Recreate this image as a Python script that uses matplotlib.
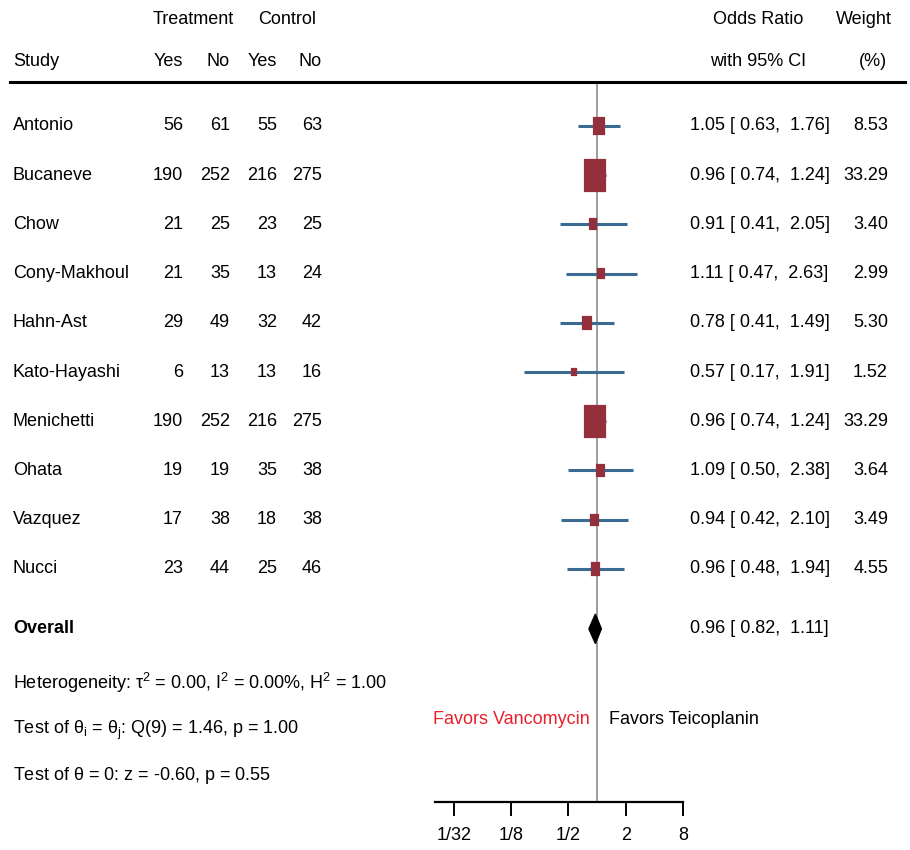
import matplotlib
matplotlib.use("Agg")
import matplotlib.pyplot as plt
from matplotlib.lines import Line2D
from matplotlib.ticker import FixedLocator, FixedFormatter, NullLocator
import matplotlib.transforms as mtrans
import numpy as np

plt.rcParams['font.family'] = ['Liberation Sans', 'DejaVu Sans']
plt.rcParams['mathtext.fontset'] = 'custom'
plt.rcParams['mathtext.rm'] = 'Liberation Sans'
plt.rcParams['mathtext.it'] = 'Liberation Sans'

# ---- study data ----
studies = ["Antonio", "Bucaneve", "Chow", "Cony-Makhoul", "Hahn-Ast",
           "Kato-Hayashi", "Menichetti", "Ohata", "Vazquez", "Nucci"]
trt_yes = [56, 190, 21, 21, 29, 6, 190, 19, 17, 23]
trt_no = [61, 252, 25, 35, 49, 13, 252, 19, 38, 44]
ctl_yes = [55, 216, 23, 13, 32, 13, 216, 35, 18, 25]
ctl_no = [63, 275, 25, 24, 42, 16, 275, 38, 38, 46]
odds = [1.05, 0.96, 0.91, 1.11, 0.78, 0.57, 0.96, 1.09, 0.94, 0.96]
ci_lo = [0.63, 0.74, 0.41, 0.47, 0.41, 0.17, 0.74, 0.50, 0.42, 0.48]
ci_hi = [1.76, 1.24, 2.05, 2.63, 1.49, 1.91, 1.24, 2.38, 2.10, 1.94]
weights = [8.53, 33.29, 3.40, 2.99, 5.30, 1.52, 33.29, 3.64, 3.49, 4.55]

overall_or = 0.96
overall_lo = 0.82
overall_hi = 1.11

tick_values = [1/32, 1/8, 1/2, 2, 8]
tick_labels = ["1/32", "1/8", "1/2", "2", "8"]

W, H = 910, 850
fig = plt.figure(figsize=(W / 100, H / 100), dpi=100)

# forest panel
ax_left, ax_right, ax_top, ax_bot = 435, 683, 82, 802
ax = fig.add_axes([ax_left / W, 1 - ax_bot / H, (ax_right - ax_left) / W, (ax_bot - ax_top) / H])
ax.set_xscale('log', base=2)
ax.set_xlim(2 ** -5.66, 2 ** 3)
row0, step = 126, 49.2
ax.set_ylim((ax_bot - row0) / step, (ax_top - row0) / step)

fs = 13

for s in ['top', 'right', 'left']:
    ax.spines[s].set_visible(False)
ax.spines['bottom'].set_linewidth(1.6)
ax.yaxis.set_major_locator(NullLocator())
ax.xaxis.set_major_locator(FixedLocator(tick_values))
ax.xaxis.set_major_formatter(FixedFormatter(tick_labels))
ax.xaxis.set_minor_locator(NullLocator())
ax.tick_params(axis='x', length=10, width=1.4, pad=8, labelsize=fs)

ax.axvline(1, color='#8c8c8c', lw=1.2, zorder=1)

box_color = '#93303c'
ci_color = '#3b6a93'
ys = np.arange(len(studies))
for y, o, lo, hi, w in zip(ys, odds, ci_lo, ci_hi, weights):
    ax.hlines(y, lo, hi, color=ci_color, lw=2.2, zorder=2)
    half_w = 0.12 * np.sqrt(w) / 2
    h = 0.11 * np.sqrt(w)
    left = o * 2 ** -half_w
    right = o * 2 ** half_w
    ax.barh(y, right - left, left=left, height=h, color=box_color,
            edgecolor=box_color, linewidth=1.6, zorder=3)

# overall diamond
y_all = 10.22
d_h = 0.3
ax.fill([overall_lo, overall_or, overall_hi, overall_or],
        [y_all, y_all - d_h, y_all, y_all + d_h], color='black', zorder=3)

# ---- text columns ----
tr = mtrans.blended_transform_factory(fig.transFigure, ax.transData)

def fx(px):
    return px / W

def fy(px):
    return 1 - px / H

for y, name, a, b, c, d, o, lo, hi, w in zip(ys, studies, trt_yes, trt_no, ctl_yes, ctl_no,
                                            odds, ci_lo, ci_hi, weights):
    ax.text(fx(13), y, name, transform=tr, ha='left', va='center', fontsize=fs)
    for xpos, v in zip([183, 230, 277, 322], [a, b, c, d]):
        ax.text(fx(xpos), y, str(v), transform=tr, ha='right', va='center', fontsize=fs)
    ax.text(fx(690), y, f"{o:.2f} [ {lo:.2f},  {hi:.2f}]", transform=tr,
            ha='left', va='center', fontsize=fs)
    ax.text(fx(888), y, f"{w:.2f}", transform=tr, ha='right', va='center', fontsize=fs)

ax.text(fx(13), y_all, "Overall", transform=tr, ha='left', va='center',
        fontsize=fs, fontweight='bold')
ax.text(fx(690), y_all, f"{overall_or:.2f} [ {overall_lo:.2f},  {overall_hi:.2f}]",
        transform=tr, ha='left', va='center', fontsize=fs)

# headers
fig.text(fx(193), fy(20), "Treatment", ha='center', va='center', fontsize=fs)
fig.text(fx(287), fy(20), "Control", ha='center', va='center', fontsize=fs)
fig.text(fx(13), fy(62), "Study", ha='left', va='center', fontsize=fs)
for xpos, lab in zip([183, 230, 277, 322], ["Yes", "No", "Yes", "No"]):
    fig.text(fx(xpos), fy(62), lab, ha='right', va='center', fontsize=fs)
fig.text(fx(758), fy(20), "Odds Ratio", ha='center', va='center', fontsize=fs)
fig.text(fx(758), fy(62), "with 95% CI", ha='center', va='center', fontsize=fs)
fig.text(fx(864), fy(20), "Weight", ha='center', va='center', fontsize=fs)
fig.text(fx(873), fy(62), "(%)", ha='center', va='center', fontsize=fs)

fig.add_artist(Line2D([fx(10), fx(905)], [fy(82), fy(82)], color='black', lw=2.2,
                      transform=fig.transFigure))

# statistics
fig.text(fx(13), fy(683), r"Heterogeneity: $\mathregular{\tau^2}$ = 0.00, $\mathregular{I^2}$ = 0.00%, $\mathregular{H^2}$ = 1.00",
         ha='left', va='center', fontsize=fs)
fig.text(fx(13), fy(730), r"Test of $\mathregular{\theta_i}$ = $\mathregular{\theta_j}$: Q(9) = 1.46, p = 1.00",
         ha='left', va='center', fontsize=fs)
fig.text(fx(13), fy(775), r"Test of $\mathregular{\theta}$ = 0: z = -0.60, p = 0.55",
         ha='left', va='center', fontsize=fs)

fig.text(fx(590), fy(720), "Favors Vancomycin", ha='right', va='center', fontsize=fs, color='#e8202a')
fig.text(fx(609), fy(720), "Favors Teicoplanin", ha='left', va='center', fontsize=fs)

fig.savefig("out.png", dpi=100, facecolor='white')
